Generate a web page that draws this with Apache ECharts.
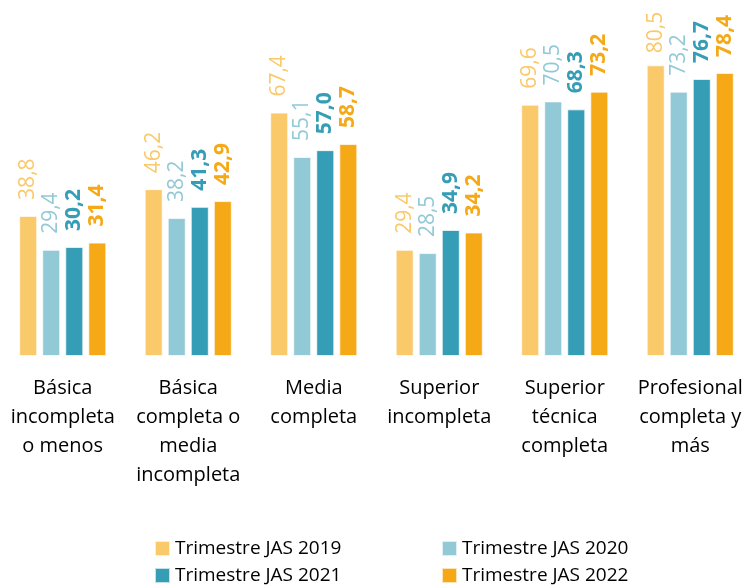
<!DOCTYPE html>
<html>
<head>
<meta charset="utf-8">
<script src="https://cdn.jsdelivr.net/npm/echarts@6/dist/echarts.min.js"></script>
<style>html,body{margin:0;padding:0;background:#fff}#c{width:753px;height:587px}</style>
</head>
<body>
<div id="c"></div>
<script>
const categories = ["Básica\nincompleta\no menos", "Básica\ncompleta o\nmedia\nincompleta", "Media\ncompleta", "Superior\nincompleta", "Superior\ntécnica\ncompleta", "Profesional\ncompleta y\nmás"];
const seriesNames = ["Trimestre JAS 2019", "Trimestre JAS 2020", "Trimestre JAS 2021", "Trimestre JAS 2022"];
const v2019 = [38.8, 46.2, 67.4, 29.4, 69.6, 80.5];
const v2020 = [29.4, 38.2, 55.1, 28.5, 70.5, 73.2];
const v2021 = [30.2, 41.3, 57.0, 34.9, 68.3, 76.7];
const v2022 = [31.4, 42.9, 58.7, 34.2, 73.2, 78.4];

const colors = ["#F9C96A", "#92C9D6", "#359DB5", "#F5A917"];
const bold = [false, false, true, true];
const values = [v2019, v2020, v2021, v2022];
const FONT = "'Open Sans', sans-serif";
const legendPos = [[154, 539], [441, 539], [154, 566], [441, 566]];

const chart = echarts.init(document.getElementById('c'));
chart.setOption({
  animation: false,
  color: colors,
  grid: { left: -2, right: -8, top: 31, bottom: 231, containLabel: false },
  xAxis: {
    type: 'category', data: categories,
    axisLine: { show: false }, axisTick: { show: false },
    axisLabel: { interval: 0, margin: 18, fontFamily: FONT, fontSize: 20, lineHeight: 29, color: '#000' }
  },
  yAxis: { type: 'value', min: 0, max: 90, show: false, splitLine: { show: false } },
  legend: seriesNames.map((n, i) => ({
    data: [n], left: legendPos[i][0], top: legendPos[i][1], padding: 0,
    itemWidth: 15, itemHeight: 15, itemGap: 0, icon: 'rect', selectedMode: false,
    textStyle: { fontFamily: FONT, fontSize: 19, color: '#000', padding: [0, 0, 0, 0] }
  })),
  series: values.map((vals, i) => ({
    name: seriesNames[i], type: 'bar',
    data: vals.map((v, j) => (i === 0 && j === 5) ? { value: v, label: { distance: 12 } } : v),
    barWidth: 18, barGap: '28%',
    itemStyle: { color: colors[i], borderColor: 'rgba(255,255,255,0.7)', borderWidth: 1 },
    label: {
      show: true, position: 'top', rotate: 90, distance: 16, align: 'left', verticalAlign: 'middle',
      fontFamily: FONT, fontSize: 21, fontWeight: bold[i] ? 'bold' : 'normal', color: colors[i],
      formatter: p => p.value.toFixed(1).replace('.', ',')
    }
  }))
});
</script>
</body>
</html>
